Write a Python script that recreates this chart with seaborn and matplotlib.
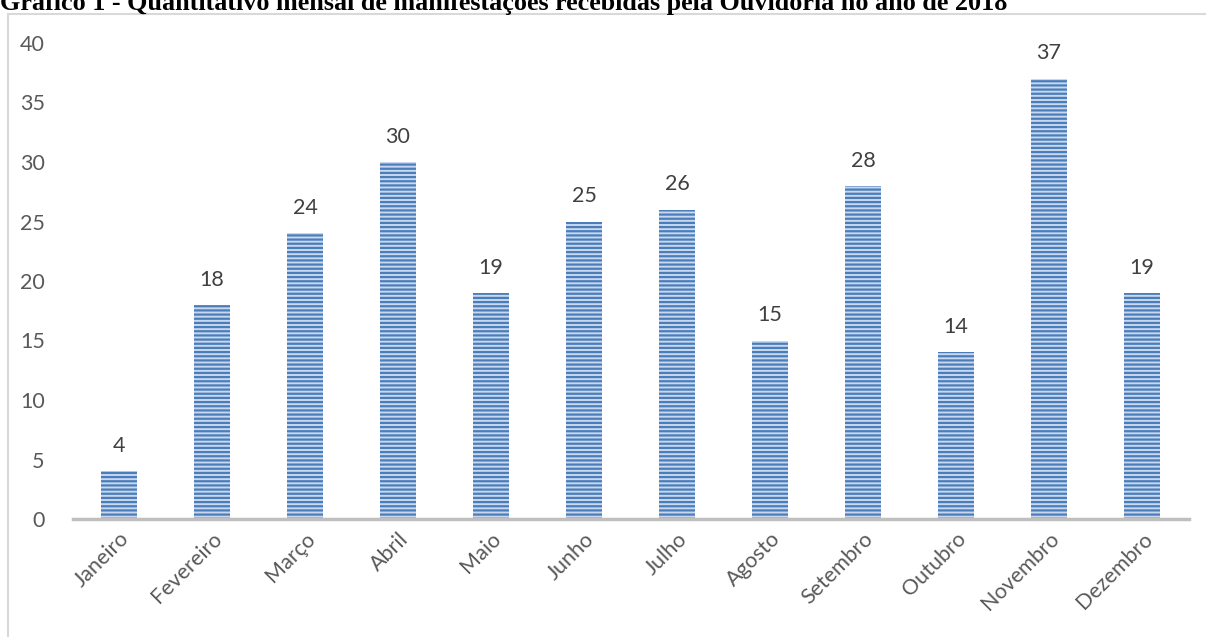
#!/usr/bin/env python3
# Monthly count of Ouvidoria manifestations, 2018

import numpy as np
import pandas as pd
import matplotlib
matplotlib.use("Agg")
import matplotlib.pyplot as plt
from matplotlib.patches import Rectangle
import seaborn as sns

months = ["Janeiro", "Fevereiro", "Março", "Abril", "Maio", "Junho",
          "Julho", "Agosto", "Setembro", "Outubro", "Novembro", "Dezembro"]
counts = [4, 18, 24, 30, 19, 25, 26, 15, 28, 14, 37, 19]
yticks = [0, 5, 10, 15, 20, 25, 30, 35, 40]
title = ("Gráfico 1 - Quantitativo mensal de manifestações recebidas "
         "pela Ouvidoria no ano de 2018")


def main():
    sns.set_style("white")
    plt.rcParams["font.family"] = ["Lato", "DejaVu Sans"]
    plt.rcParams["hatch.linewidth"] = 1.6

    df = pd.DataFrame({"mes": months, "n": counts})

    fig = plt.figure(figsize=(12.06, 6.37), dpi=100)
    ax = fig.add_axes([72.5 / 1206, 1 - 519 / 637, (1188.5 - 72.5) / 1206, 476 / 637])

    sns.barplot(data=df, x="mes", y="n", ax=ax, width=0.39,
                color="#c9d8ee", edgecolor="#4a7ebb", linewidth=0,
                hatch="----", saturation=1)
    for p in ax.patches:
        p.set_hatch("----")

    for i, v in enumerate(counts):
        ax.annotate(str(v), (i, v), xytext=(0, 11), textcoords="offset points",
                    ha="center", va="bottom", fontsize=15.5, color="#404040")

    ax.set_ylim(0, 40)
    ax.set_yticks(yticks)
    ax.set_xlim(-0.5, len(months) - 0.5)
    ax.set_xlabel("")
    ax.set_ylabel("")
    ax.tick_params(axis="y", length=0, labelsize=15.5, labelcolor="#595959", pad=20)
    ax.tick_params(axis="x", length=0, labelsize=15.5, labelcolor="#595959", pad=7)
    plt.setp(ax.get_xticklabels(), rotation=45, ha="right", rotation_mode="anchor")

    for s in ["top", "right", "left"]:
        ax.spines[s].set_visible(False)
    ax.spines["bottom"].set_color("#bfbfbf")
    ax.spines["bottom"].set_linewidth(2.5)

    # chart frame
    fig.patches.append(Rectangle((8 / 1206, -0.1), 1.2, 1 - 14 / 637 + 0.1,
                                 transform=fig.transFigure, fill=False,
                                 edgecolor="#d9d9d9", linewidth=1.5))

    fig.text(0.0, 1 - 10 / 637, title, family="Liberation Serif",
             fontweight="bold", fontsize=18.8, color="#000000",
             ha="left", va="baseline")

    fig.savefig("out.png", dpi=100)


if __name__ == "__main__":
    main()
